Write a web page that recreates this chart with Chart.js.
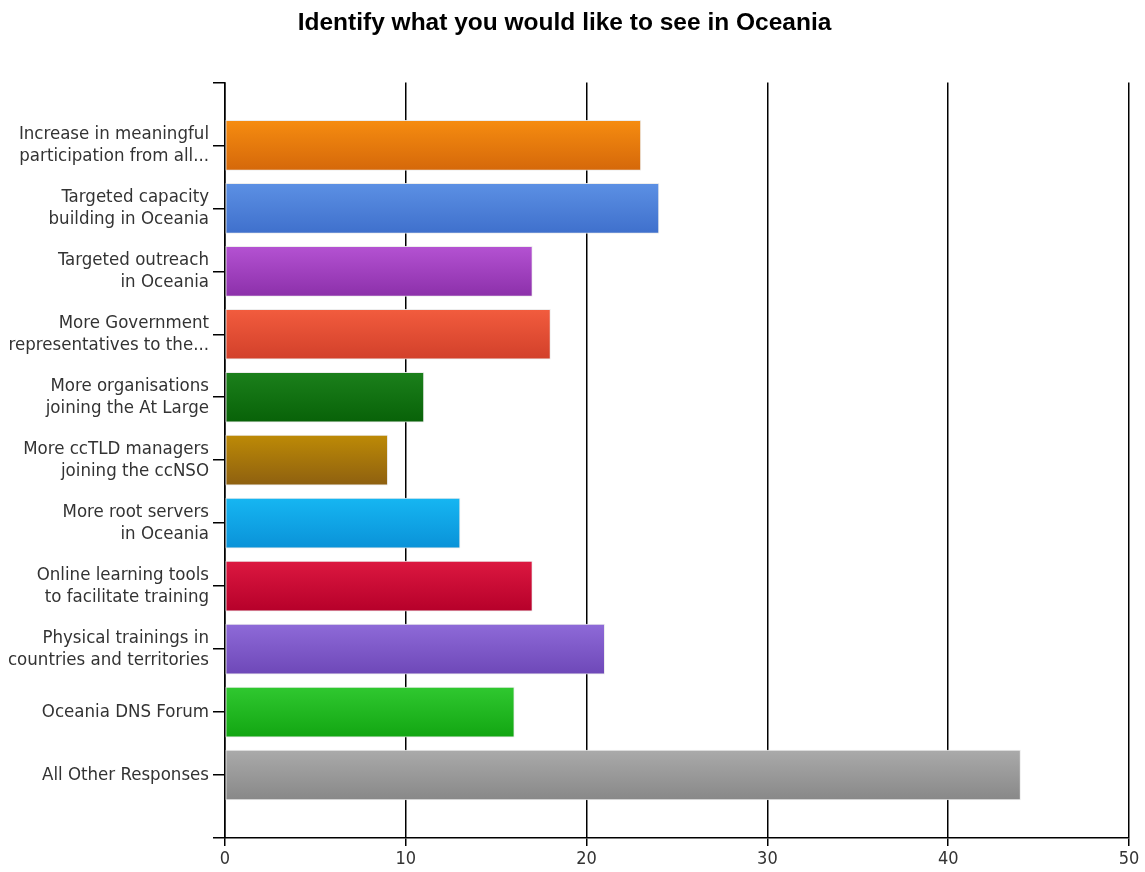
<!DOCTYPE html>
<html>
<head>
<meta charset="utf-8">
<title>Identify what you would like to see in Oceania</title>
<script src="https://cdn.jsdelivr.net/npm/chart.js@4.4.1/dist/chart.umd.min.js"></script>
<style>
  html, body { margin: 0; padding: 0; background: #fff; }
  #wrap { width: 1145px; height: 872px; }
</style>
</head>
<body>
<div id="wrap"><canvas id="chart" width="1145" height="872"></canvas></div>
<script>
const categories = [
  ['Increase in meaningful', 'participation from all...'],
  ['Targeted capacity', 'building in Oceania'],
  ['Targeted outreach', 'in Oceania'],
  ['More Government', 'representatives to the...'],
  ['More organisations', 'joining the At Large'],
  ['More ccTLD managers', 'joining the ccNSO'],
  ['More root servers', 'in Oceania'],
  ['Online learning tools', 'to facilitate training'],
  ['Physical trainings in', 'countries and territories'],
  'Oceania DNS Forum',
  'All Other Responses'
];
const responses = [23, 24, 17, 18, 11, 9, 13, 17, 21, 16, 44];
const xTicks = [0, 10, 20, 30, 40, 50];

// top / bottom colour of each bar's vertical gradient
const topColors = ['#f68c10', '#5c90e4', '#b452d2', '#f25c3e', '#1b801b', '#bd8a06', '#16b6f2', '#dc1840', '#8e6ad8', '#30c830', '#aaaaaa'];
const bottomColors = ['#d5680a', '#3f70cc', '#8c30aa', '#d2402a', '#086208', '#8e6010', '#0a92d8', '#b6002a', '#6e48b8', '#12a612', '#888888'];

// empty slot above and below the bars
const labels = [''].concat(categories, ['']);
const values = [null].concat(responses, [null]);

const BAR_PX = 50;

function barGradient(ctx) {
  const chart = ctx.chart;
  const i = ctx.dataIndex - 1;
  if (i < 0 || i >= responses.length) return '#999';
  if (!chart.chartArea) return topColors[i];
  const yc = chart.scales.y.getPixelForValue(ctx.dataIndex);
  const g = chart.ctx.createLinearGradient(0, yc - BAR_PX / 2, 0, yc + BAR_PX / 2);
  g.addColorStop(0, topColors[i]);
  g.addColorStop(1, bottomColors[i]);
  return g;
}

const uiFamily = '"DejaVu Sans Condensed", "DejaVu Sans", sans-serif';

new Chart(document.getElementById('chart'), {
  type: 'bar',
  data: {
    labels: labels,
    datasets: [{
      data: values,
      backgroundColor: barGradient,
      borderColor: 'rgba(235, 235, 235, 0.9)',
      borderWidth: 1,
      borderSkipped: false,
      barThickness: BAR_PX
    }]
  },
  options: {
    indexAxis: 'y',
    responsive: false,
    animation: false,
    layout: { padding: { left: 0, right: 16, top: 0, bottom: 0 } },
    plugins: {
      legend: { display: false },
      tooltip: { enabled: false },
      title: {
        display: true,
        text: 'Identify what you would like to see in Oceania',
        color: '#000',
        font: { family: '"Liberation Sans", Arial, sans-serif', size: 24.5, weight: 'bold', lineHeight: 1.2 },
        padding: { top: 9, bottom: 44 }
      }
    },
    scales: {
      x: {
        type: 'linear',
        min: 0,
        max: 50,
        afterBuildTicks: scale => { scale.ticks = xTicks.map(v => ({ value: v })); },
        afterFit: scale => { scale.height = 34; },
        grid: { color: '#000', lineWidth: 1.5, tickLength: 8, drawOnChartArea: true },
        border: { color: '#000', width: 1.5 },
        ticks: { color: '#333', padding: 3, font: { family: uiFamily, size: 18 } }
      },
      y: {
        type: 'category',
        offset: false,
        afterFit: scale => { scale.width = 225; },
        grid: { color: '#000', lineWidth: 1.5, tickLength: 12, offset: false, drawOnChartArea: false },
        border: { color: '#000', width: 1.5 },
        ticks: { color: '#333', padding: 4, autoSkip: false, font: { family: uiFamily, size: 18.5, lineHeight: 1.19 } }
      }
    }
  }
});
</script>
</body>
</html>
